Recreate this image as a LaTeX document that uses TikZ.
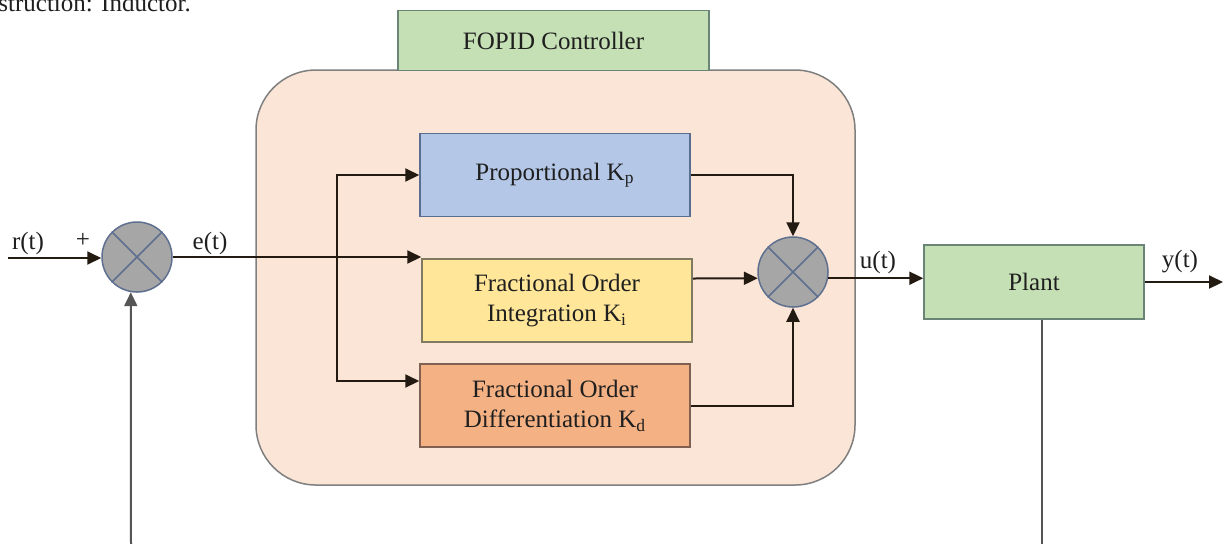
\documentclass[tikz,border=0pt]{standalone}
\usepackage{fontspec}
\setmainfont{Liberation Serif}
\usetikzlibrary{arrows.meta,calc}

\definecolor{peach}{HTML}{FBE5D6}
\definecolor{peachline}{HTML}{7F7F7F}
\definecolor{leaf}{HTML}{C5E0B4}
\definecolor{leafline}{HTML}{6A8576}
\definecolor{sky}{HTML}{B4C7E7}
\definecolor{skyline}{HTML}{5A6F90}
\definecolor{butter}{HTML}{FFE699}
\definecolor{butterline}{HTML}{7F7A60}
\definecolor{apricot}{HTML}{F4B183}
\definecolor{apricotline}{HTML}{806050}
\definecolor{junction}{HTML}{A6A6A6}
\definecolor{junctionline}{HTML}{5F6F8F}
\definecolor{wire}{HTML}{231A12}
\definecolor{ink}{HTML}{1F1F1F}
\definecolor{feedback}{HTML}{555555}

\tikzset{
  blockbox/.style={draw=#1line, fill=#1, line width=0.75pt, minimum width=135pt,
    minimum height=41.5pt, align=center, text=ink, inner sep=0pt},
  sumjunction/.style={circle, draw=junctionline, fill=junction, line width=0.75pt,
    minimum size=35pt, inner sep=0pt},
  wireline/.style={draw=wire, line width=1pt},
  tip/.style={-{Triangle[length=7pt,width=6.5pt]}},
  arrowline/.style={wireline, tip},
  sig/.style={text=ink, inner sep=0pt},
}

\begin{document}
\begin{tikzpicture}[x=0.5pt, y=-0.5pt, font=\fontsize{12.5}{15}\selectfont]
\clip (0,0) rectangle (1224,543);
\fill[white] (0,0) rectangle (1224,543);

% caption fragment at the top edge
\node[sig, anchor=base west] (caption) at (-2,11) {struction: Inductor.};

% controller enclosure and its title
\node[draw=peachline, fill=peach, line width=0.75pt, rounded corners=30pt,
  minimum width=299.5pt, minimum height=207.5pt] (ctrl) at (555.5,277.5) {};
\node[draw=leafline, fill=leaf, line width=0.75pt, minimum width=155.5pt,
  minimum height=30pt, text=ink, inner sep=0pt] (title) at (553.5,40.5) {FOPID Controller};

% gain blocks
\node[blockbox=sky] (kp) at (555,175) {Proportional K\textsubscript{p}};
\node[blockbox=butter] (ki) at (557,300.5) {Fractional Order\\Integration K\textsubscript{i}};
\node[blockbox=apricot] (kd) at (555,405.5) {Fractional Order\\Differentiation K\textsubscript{d}};

% plant
\node[draw=leafline, fill=leaf, line width=0.75pt, minimum width=110pt,
  minimum height=37pt, text=ink, inner sep=0pt] (plant) at (1034,282) {Plant};

% summing junctions
\node[sumjunction] (s1) at (137,257) {};
\node[sumjunction] (s2) at (793,272) {};
\foreach \s in {s1,s2}{
  \draw[junctionline, line width=0.75pt] (\s.45) -- (\s.225);
  \draw[junctionline, line width=0.75pt] (\s.135) -- (\s.315);
}

% free ends
\coordinate (rin) at (8,258);
\coordinate (br) at (337,257);
\coordinate (yout) at (1223,282);
\coordinate (fbR) at (1042,545);
\coordinate (fbL) at (131,545);

% forward path
\draw[arrowline] (rin) -- (s1.west |- rin);
\draw[arrowline] (s1.east) -- (s1.east -| ki.west);
\draw[arrowline] (br) |- (kp.west);
\draw[arrowline] (br) |- ([yshift=12.25pt]kd.west);
\draw[arrowline] (kp.east) -| (s2.north);
\draw[arrowline] ([yshift=11pt]ki.east) -- (s2.190);
\draw[arrowline] (kd.east) -| (s2.south);
\draw[arrowline] (s2.350) -- (s2.350 -| plant.west);
\draw[arrowline] (plant.east) -- (yout);

% feedback path
\draw[draw=feedback, line width=1pt] ([xshift=4pt]plant.south) -- (fbR);
\draw[draw=feedback, line width=1pt, tip] (fbL) -- (s1.260);

% signal labels
\node[sig] (lr) at (28,243) {r(t)};
\node[sig] (lplus) at (83,240) {+};
\node[sig] (le) at (210,243) {e(t)};
\node[sig] (lu) at (878,262) {u(t)};
\node[sig] (ly) at (1180,262) {y(t)};
\end{tikzpicture}
\end{document}
